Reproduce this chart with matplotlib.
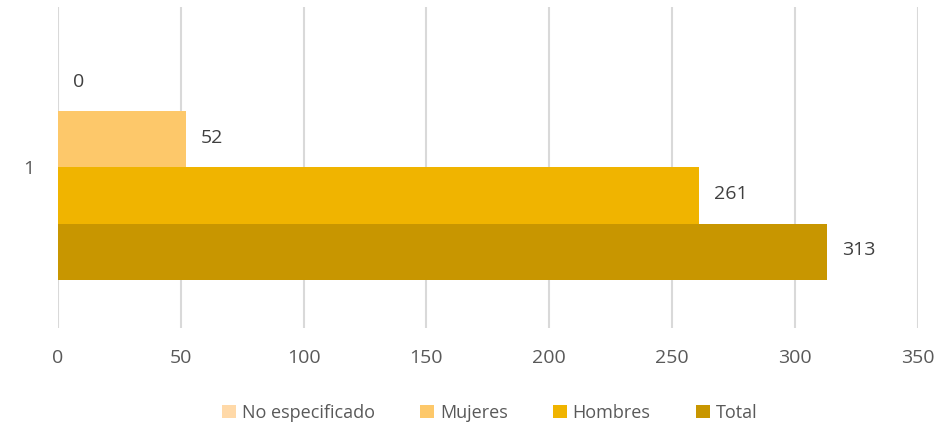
import numpy as np
import matplotlib.pyplot as plt

series = ["No especificado", "Mujeres", "Hombres", "Total"]
values = [0, 52, 261, 313]
colors = ["#FFD9A8", "#FDC86A", "#F0B400", "#C89600"]
category = ["1"]

plt.rcParams['font.family'] = ['Open Sans', 'DejaVu Sans']

fig = plt.figure(figsize=(9.5, 4.25), dpi=100)
ax = fig.add_axes([0.061, 0.228, 0.905, 0.756])

n = len(series)
group_w = 0.70
h = group_w / n
for i, (name, v, c) in enumerate(zip(series, values, colors)):
    y = 1 + group_w / 2 - h * (i + 0.5)
    ax.barh(y, v, height=h, color=c, label=name, zorder=2)
    ax.annotate(str(v), (v, y), xytext=(11, 1), textcoords="offset points",
                va="center", ha="left", fontsize=14, color="#404040")

ax.set_xlim(0, 350)
ax.set_ylim(0.5, 1.5)
ax.set_xticks(np.arange(0, 351, 50))
ax.set_yticks([1])
ax.set_yticklabels(category)
ax.tick_params(length=0, labelsize=14, labelcolor="#595959")
ax.tick_params(axis="x", pad=15)
ax.tick_params(axis="y", pad=17)
ax.grid(axis="x", color="#D9D9D9", linewidth=1.5, zorder=0)
for s in ax.spines.values():
    s.set_visible(False)

ax.legend(loc="upper center", bbox_to_anchor=(0.502, -0.185), ncol=4, frameon=False,
          fontsize=13, labelcolor="#595959", handlelength=0.8, handleheight=0.8,
          handletextpad=0.3, columnspacing=2.5)

fig.savefig("out.png", dpi=100)
